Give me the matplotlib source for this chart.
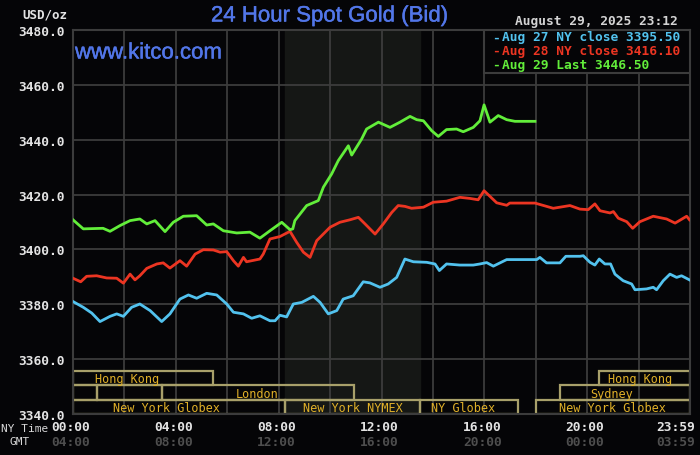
import matplotlib
matplotlib.use("Agg")
import matplotlib.pyplot as plt
from matplotlib.patches import Rectangle
import matplotlib.transforms as mtransforms
import matplotlib.patheffects as pe

# ---------------- data ----------------
blue_h = [0, 0.4, 0.73, 1.05, 1.44, 1.7, 1.96, 2.28, 2.6, 3.0, 3.45, 3.77, 4.16, 4.49, 4.81, 5.2, 5.59,
          5.98, 6.24, 6.63, 6.95, 7.27, 7.66, 7.86, 8.05, 8.31, 8.57, 8.9, 9.35, 9.61, 9.93, 10.26, 10.51,
          10.9, 11.29, 11.55, 11.94, 12.26, 12.59, 12.91, 13.24, 13.76, 14.08, 14.25, 14.53, 15.05, 15.57,
          15.83, 16.09, 16.35, 16.87, 18.04, 18.16, 18.42, 18.94, 19.17, 19.72, 19.85, 20.11, 20.3, 20.47,
          20.69, 20.91, 21.08, 21.4, 21.73, 21.86, 22.31, 22.57, 22.7, 22.96, 23.22, 23.48, 23.67, 23.98]
blue_v = [3381.0, 3378.9, 3376.8, 3373.7, 3375.6, 3376.5, 3375.6, 3378.9, 3380.1, 3377.7, 3373.7, 3376.5,
          3381.9, 3383.4, 3382.2, 3384.0, 3383.4, 3380.1, 3377.1, 3376.5, 3374.9, 3375.8, 3374.0, 3374.0,
          3376.0, 3375.4, 3380.1, 3380.7, 3382.9, 3380.7, 3376.5, 3377.7, 3381.9, 3383.1, 3388.2, 3387.8,
          3386.2, 3387.4, 3389.8, 3396.5, 3395.5, 3395.3, 3394.7, 3392.3, 3394.7, 3394.3, 3394.3, 3394.7,
          3395.2, 3393.9, 3396.3, 3396.3, 3397.1, 3395.1, 3395.1, 3397.5, 3397.5, 3397.7, 3395.3, 3394.3,
          3396.5, 3394.7, 3394.7, 3391.0, 3388.6, 3387.4, 3385.3, 3385.6, 3386.2, 3385.3, 3388.6, 3391.0,
          3389.8, 3390.4, 3388.9]

red_h = [0, 0.3, 0.53, 0.92, 1.31, 1.7, 1.96, 2.22, 2.41, 2.6, 2.87, 3.26, 3.51, 3.77, 4.16, 4.42, 4.75,
         5.07, 5.46, 5.72, 5.98, 6.24, 6.43, 6.63, 6.75, 7.27, 7.4, 7.66, 8.05, 8.44, 8.7, 8.96, 9.22, 9.48,
         10.0, 10.38, 10.77, 11.1, 11.36, 11.75, 12.07, 12.4, 12.65, 12.91, 13.17, 13.63, 14.01, 14.53,
         15.05, 15.44, 15.76, 15.99, 16.48, 16.87, 16.99, 17.97, 18.42, 18.68, 19.33, 19.72, 20.04, 20.3,
         20.5, 20.89, 21.02, 21.21, 21.54, 21.77, 22.05, 22.57, 23.09, 23.42, 23.87, 23.98]
red_v = [3389.5, 3388.2, 3390.2, 3390.4, 3389.6, 3389.5, 3387.7, 3391.0, 3388.9, 3390.4, 3393.1, 3394.7,
         3395.1, 3393.2, 3395.9, 3393.9, 3398.3, 3399.9, 3399.8, 3399.0, 3399.2, 3395.9, 3393.9, 3397.1,
         3395.5, 3396.5, 3398.3, 3403.8, 3404.7, 3406.6, 3402.6, 3399.0, 3397.1, 3403.2, 3408.1, 3409.9,
         3410.8, 3411.7, 3409.3, 3405.6, 3409.3, 3413.5, 3416.0, 3415.7, 3415.0, 3415.4, 3417.2, 3417.6,
         3419.0, 3418.6, 3418.1, 3421.4, 3417.0, 3416.1, 3416.9, 3416.9, 3415.7, 3415.0, 3416.0, 3414.7,
         3414.5, 3416.6, 3414.1, 3413.3, 3413.8, 3411.4, 3410.1, 3407.7, 3410.1, 3412.1, 3411.1, 3409.6,
         3412.1, 3410.8]

green_h = [0, 0.4, 1.17, 1.44, 1.83, 2.22, 2.6, 2.87, 3.19, 3.58, 3.9, 4.29, 4.81, 5.2, 5.46, 5.85, 6.37,
           6.88, 7.27, 7.66, 8.12, 8.44, 8.55, 8.63, 9.09, 9.54, 9.74, 10.06, 10.32, 10.71, 10.84, 11.23,
           11.42, 11.88, 12.33, 12.72, 13.11, 13.37, 13.63, 13.95, 14.21, 14.53, 14.92, 15.18, 15.57, 15.83,
           15.99, 16.22, 16.54, 16.87, 17.19, 17.97]
green_v = [3410.8, 3407.5, 3407.7, 3406.6, 3408.7, 3410.5, 3411.1, 3409.3, 3410.5, 3406.5, 3409.9, 3412.1,
           3412.3, 3408.9, 3409.3, 3406.8, 3406.0, 3406.3, 3404.1, 3406.8, 3409.9, 3407.2, 3407.5, 3410.5,
           3416.0, 3417.8, 3422.7, 3427.5, 3432.4, 3437.8, 3434.4, 3440.3, 3443.9, 3446.4, 3444.5, 3446.4,
           3448.5, 3447.3, 3446.9, 3443.3, 3441.2, 3443.7, 3443.9, 3442.9, 3444.5, 3446.9, 3452.7, 3446.4,
           3448.8, 3447.3, 3446.7, 3446.7]

legend_labels = ["Aug 27 NY close 3395.50", "Aug 28 NY close 3416.10", "Aug 29 Last 3446.50"]
y_ticks = [3340, 3360, 3380, 3400, 3420, 3440, 3460, 3480]
ny_labels = ["00:00", "04:00", "08:00", "12:00", "16:00", "20:00", "23:59"]
gmt_labels = ["04:00", "08:00", "12:00", "16:00", "20:00", "00:00", "03:59"]
label_hours = [0, 4, 8, 12, 16, 20, 24]

# sessions: (row, start, end, label, label_x)
sessions = [
    (0, 0.0, 5.46, "Hong Kong", 2.10),
    (0, 20.47, 24.0, "Hong Kong", 22.04),
    (1, 0.0, 0.92, "", 0),
    (1, 0.92, 3.46, "", 0),
    (1, 3.46, 10.93, "London", 7.15),
    (1, 18.94, 24.0, "Sydney", 20.95),
    (2, 0.0, 8.25, "New York Globex", 3.62),
    (2, 8.25, 13.5, "New York NYMEX", 10.87),
    (2, 13.5, 17.3, "NY Globex", 15.17),
    (2, 18.0, 24.0, "New York Globex", 20.97),
]
row_edges = [3355.7, 3350.6, 3345.1, 3340.0]

BG = "#050507"
GRID = "#3c3c3c"
BLUE = "#52c2ee"
RED = "#ec3522"
GREEN = "#62ee3a"
TITLE_BLUE = "#5276e8"
SESS_TXT = "#e0b028"
SESS_EDGE = "#a8a06a"
MONO = "DejaVu Sans Mono"

fig = plt.figure(figsize=(7, 4.56), dpi=100, facecolor=BG)
ax = fig.add_axes([73 / 700, 1 - 415 / 456, 617 / 700, 384 / 456])
ax.set_facecolor(BG)
ax.set_xlim(0, 24)
ax.set_ylim(3340, 3480)

# NYMEX shading
ax.axvspan(8.25, 13.5, color="#151715", zorder=0)

# grid
for h in range(2, 24, 2):
    ax.axvline(h, color=GRID, lw=1.3, zorder=1)
for v in y_ticks[1:-1]:
    ax.axhline(v, color=GRID, lw=1.3, zorder=1)
for s in ax.spines.values():
    s.set_color(GRID)
    s.set_linewidth(1.5)

# sessions
for row, s0, s1, lab, lx in sessions:
    y0 = row_edges[row + 1]
    y1 = row_edges[row]
    ax.add_patch(Rectangle((s0, y0), s1 - s0, y1 - y0, fill=False, edgecolor=SESS_EDGE,
                           lw=1.6, zorder=2))
    if lab:
        ax.text(lx, (y0 + y1) / 2 - 0.2, lab, color=SESS_TXT, fontsize=8.6, family=MONO,
                ha="center", va="center", zorder=3)

# lines
ax.plot(blue_h, blue_v, color=BLUE, lw=2.0, zorder=4)
ax.plot(red_h, red_v, color=RED, lw=2.0, zorder=5)
ax.plot(green_h, green_v, color=GREEN, lw=2.0, zorder=6)

# legend box
ax.add_patch(Rectangle((16, 3464.3), 8, 15.7, facecolor=BG, edgecolor=GRID, lw=1.5, zorder=7))
leg_colors = [BLUE, RED, GREEN]
leg_y = [38, 51.5, 65.5]
for lab, c, yy in zip(legend_labels, leg_colors, leg_y):
    fig.text(492 / 700, 1 - yy / 456, "-", color=c, fontsize=9.3, family=MONO, fontweight="bold",
             ha="left", va="center")
    fig.text(502 / 700, 1 - yy / 456, lab, color=c, fontsize=9.3, family=MONO, fontweight="bold",
             ha="left", va="center")

# y ticks
ax.set_yticks(y_ticks)
ax.set_yticklabels([f"{v:.1f}" for v in y_ticks], family=MONO, fontweight="bold", fontsize=9.3,
                   color="#e4e4e4")
ax.tick_params(axis="y", length=0, pad=6)
ax.set_xticks([])

# x labels
trans = mtransforms.blended_transform_factory(ax.transData, fig.transFigure)
for h, ny, gm in zip(label_hours, ny_labels, gmt_labels):
    xx = h - 0.08 if h < 24 else 23.45
    ax.text(xx, 1 - 428 / 456, ny, transform=trans, color="#e4e4e4", family=MONO,
            fontweight="bold", fontsize=9.3, ha="center", va="center")
    ax.text(xx, 1 - 443 / 456, gm, transform=trans, color="#4e4e4e", family=MONO,
            fontweight="bold", fontsize=9.3, ha="center", va="center")

fig.text(1 / 700, 1 - 429 / 456, "NY Time", color="#d8d8d8", family=MONO, fontsize=8.0,
         ha="left", va="center")
fig.text(10 / 700, 1 - 442 / 456, "GMT", color="#d8d8d8", family=MONO, fontsize=8.0,
         ha="left", va="center")
fig.text(67 / 700, 1 - 15 / 456, "USD/oz", color="#e4e4e4", family=MONO, fontweight="bold",
         fontsize=9.0, ha="right", va="center")

# titles
bold_fx = [pe.withStroke(linewidth=0.3, foreground=TITLE_BLUE)]
fig.text(329.5 / 700, 1 - 17 / 456, "24 Hour Spot Gold (Bid)", color=TITLE_BLUE,
         family="Liberation Sans", fontsize=16.0, ha="center", va="center", path_effects=bold_fx)
fig.text(75 / 700, 1 - 54 / 456, "www.kitco.com", color=TITLE_BLUE, family="Liberation Sans",
         fontsize=16.0, ha="left", va="center", zorder=8, path_effects=bold_fx)
fig.text(678 / 700, 1 - 22 / 456, "August 29, 2025 23:12", color="#d4d4d4", family=MONO,
         fontweight="bold", fontsize=9.3, ha="right", va="center")

fig.savefig("out.png", dpi=100, facecolor=BG)
